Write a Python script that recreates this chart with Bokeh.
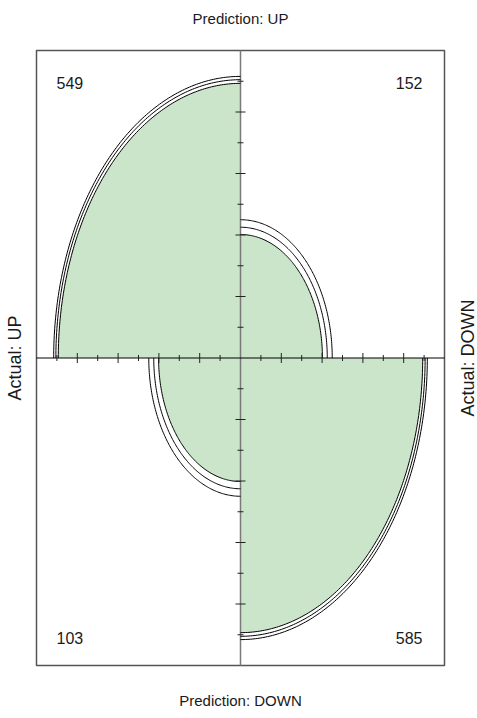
import numpy as np
from bokeh.plotting import figure
from bokeh.models import Range1d, Label
from bokeh.embed import file_html
from bokeh.resources import INLINE

# ---- data ----
# 2x2 confusion table: rows = Prediction (UP, DOWN), cols = Actual (UP, DOWN)
counts = np.array([[549, 152],
                   [103, 585]], dtype=float)
row_labels = ["Prediction: UP", "Prediction: DOWN"]
col_labels = ["Actual: UP", "Actual: DOWN"]
tick_values = [0.1, 0.2, 0.3, 0.4, 0.5, 0.6, 0.7, 0.8, 0.9]
conf_level = 0.95

# ---- standardize table so that all margins are equal (fourfold display) ----
t = counts.copy()
for _ in range(200):
    t = t / t.sum(axis=1, keepdims=True)
    t = t / t.sum(axis=0, keepdims=True)
radius = np.sqrt(t)

# confidence rings for the odds ratio
log_or = np.log(counts[0, 0] * counts[1, 1] / (counts[0, 1] * counts[1, 0]))
se = np.sqrt((1.0 / counts).sum())
z = 1.959964
def std_table(theta):
    s = np.sqrt(theta)
    a = s / (1 + s)
    return np.array([[a, 1 - a], [1 - a, a]])
r_lo = np.sqrt(std_table(np.exp(log_or - z * se)))
r_hi = np.sqrt(std_table(np.exp(log_or + z * se)))

quad_angles = {(0, 0): (np.pi / 2, np.pi), (0, 1): (0, np.pi / 2),
               (1, 0): (np.pi, 1.5 * np.pi), (1, 1): (1.5 * np.pi, 2 * np.pi)}

# whole canvas is the frame; the box [-1,1]x[-1,1] sits at pixels x 36..444, y 50..665
W, H = 477, 718
cx, cy, hx, hy = 240.0, 357.5, 204.0, 307.5
p = figure(frame_width=W, frame_height=H, output_backend="svg",
           toolbar_location=None, x_axis_location=None, y_axis_location=None,
           x_range=Range1d(-cx / hx, (W - cx) / hx),
           y_range=Range1d((cy - H) / hy, cy / hy),
           min_border=0)
p.grid.visible = False
p.outline_line_color = None
p.background_fill_color = "white"
p.border_fill_color = "white"

fill_xs, fill_ys, arc_xs, arc_ys = [], [], [], []
for (i, j), (a0, a1) in quad_angles.items():
    th = np.linspace(a0, a1, 120)
    rf = min(r_lo[i, j], r_hi[i, j])
    fill_xs.append([0.0] + list(rf * np.cos(th)))
    fill_ys.append([0.0] + list(rf * np.sin(th)))
    for r in (r_lo[i, j], radius[i, j], r_hi[i, j]):
        arc_xs.append(list(r * np.cos(th)))
        arc_ys.append(list(r * np.sin(th)))

p.patches(fill_xs, fill_ys, fill_color="#cbe5cb", line_color=None)

# box and center axes
p.quad(left=[-1], right=[1], bottom=[-1], top=[1], fill_color=None,
       line_color="#555555", line_width=1.5)
p.segment(x0=[0], y0=[-1], x1=[0], y1=[1], line_color="#7a7a7a", line_width=1.5)
p.segment(x0=[-1], y0=[0], x1=[1], y1=[0], line_color="black", line_width=1)

p.multi_line(arc_xs, arc_ys, line_color="black", line_width=1)

# tick marks
tv = np.array(tick_values)
major = np.isclose((tv * 10) % 2, 0)
for sel, size in ((major, 10), (~major, 6)):
    v = tv[sel]
    hv = np.concatenate([v, -v])
    p.scatter(hv, np.zeros_like(hv), marker="dash", size=size, angle=np.pi / 2,
              line_color="#222222", line_width=1)
    p.scatter(np.zeros_like(hv), hv, marker="dash", size=size, angle=0,
              line_color="#222222", line_width=1)

font = "Liberation Sans"
col = "#1a1a1a"
def lab(x, y, text, size, align, angle=0.0):
    p.add_layout(Label(x=x, y=y, text=text, text_font=font, text_font_size=size,
                       text_align=align, text_baseline="middle", angle=angle,
                       text_color=col))

# cell counts
lab(-0.902, 0.893, f"{int(counts[0,0])}", "16px", "left")
lab(0.892, 0.893, f"{int(counts[0,1])}", "16px", "right")
lab(-0.902, -0.909, f"{int(counts[1,0])}", "16px", "left")
lab(0.892, -0.909, f"{int(counts[1,1])}", "16px", "right")
# margin labels
lab(0, (cy - 18) / hy, row_labels[0], "15px", "center")
lab(0, (cy - 700) / hy, row_labels[1], "15px", "center")
lab((14 - cx) / hx, 0, col_labels[0], "18px", "center", np.pi / 2)
lab((467 - cx) / hx, 0, col_labels[1], "18px", "center", np.pi / 2)

open("out.html", "w").write(file_html(p, INLINE))
